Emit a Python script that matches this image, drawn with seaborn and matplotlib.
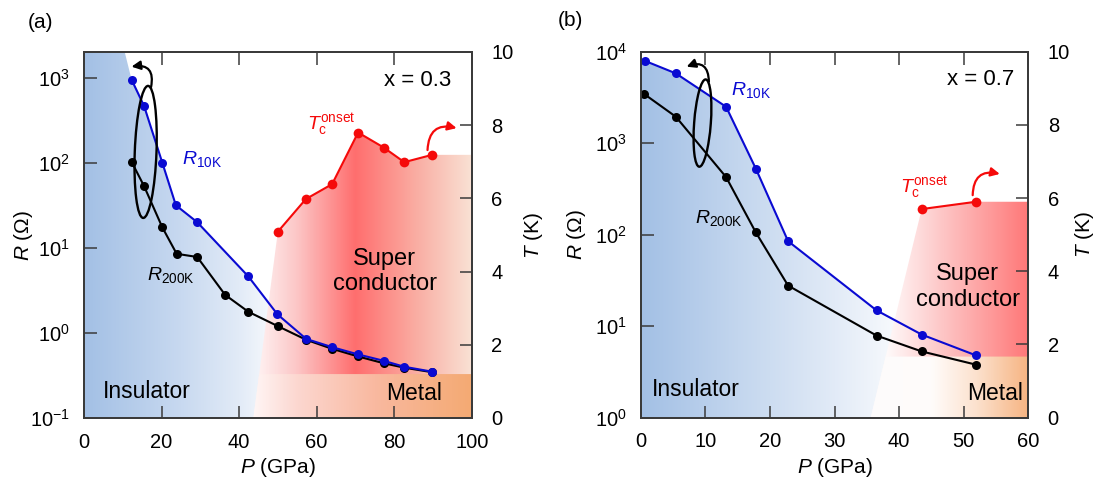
import numpy as np
import matplotlib
matplotlib.use("Agg")
import matplotlib.pyplot as plt
import seaborn as sns
from matplotlib.colors import LinearSegmentedColormap
from matplotlib.patches import Polygon, Ellipse
from matplotlib.ticker import NullLocator

# ---- panel (a): x = 0.3 ----
p10_a = [12.3, 15.5, 20.2, 23.7, 29.2, 42.4, 49.9, 57.3, 64.0, 70.6, 77.3, 82.6, 89.8]
r10_a = [940, 464, 100, 31.6, 20, 4.6, 1.65, 0.85, 0.68, 0.56, 0.47, 0.40, 0.35]
p200_a = [12.3, 15.5, 20.2, 23.9, 29.2, 36.4, 42.4, 50.0, 57.3, 64.0, 70.6, 77.3, 82.6, 89.8]
r200_a = [102, 53, 17.4, 8.5, 7.8, 2.8, 1.77, 1.2, 0.83, 0.65, 0.53, 0.44, 0.39, 0.345]
ptc_a = [50.0, 57.2, 64.0, 70.7, 77.3, 82.6, 89.8]
tc_a = [5.09, 5.98, 6.39, 7.80, 7.39, 6.99, 7.19]

# ---- panel (b): x = 0.7 ----
p10_b = [0.6, 5.4, 13.2, 17.8, 22.8, 36.5, 43.5, 51.9]
r10_b = [7950, 5800, 2500, 528, 85, 14.9, 8.1, 4.8]
p200_b = [0.5, 5.4, 13.2, 17.8, 22.8, 36.5, 43.5, 51.9]
r200_b = [3450, 1950, 426, 106, 27.8, 7.9, 5.3, 3.8]
ptc_b = [43.5, 51.9]
tc_b = [5.70, 5.90]

# phase boundaries (region edges, not data points)
ins_top_a = 10.5
sc_foot_a = 43.7
metal_top_a = 1.2
sc_foot_b = 35.6
metal_top_b = 1.67

BLUE = "#0a0ad2"
RED = "#f50a0a"

sns.set_theme(style="ticks")
plt.rcParams["font.family"] = ["Liberation Sans", "DejaVu Sans"]
plt.rcParams["mathtext.fontset"] = "custom"
plt.rcParams["mathtext.rm"] = "Liberation Sans"
plt.rcParams["mathtext.it"] = "Liberation Sans:italic"
plt.rcParams["axes.edgecolor"] = "#3a3a3a"
plt.rcParams["axes.linewidth"] = 1.3
plt.rcParams["text.color"] = "black"
plt.rcParams["axes.labelcolor"] = "black"
plt.rcParams["axes.unicode_minus"] = False


def gradient(ax, verts, trans, stops, xmax, zorder):
    cmap = LinearSegmentedColormap.from_list(
        "g", [(p / xmax, np.array(c) / 255) for p, c in stops])
    img = ax.imshow(np.linspace(0, 1, 512)[None, :], cmap=cmap, vmin=0, vmax=1,
                    extent=(0, 1, 0, 1), transform=ax.transAxes,
                    aspect="auto", zorder=zorder, interpolation="bilinear")
    img.set_clip_path(Polygon(verts, closed=True, transform=trans))


def panel(ax, xmax, ylim, p10, r10, p200, r200, ptc, tc, bounds, colors):
    ins_verts, sc_verts, metal_verts = bounds
    blue_stops, red_stops, metal_stops = colors
    ax.set_autoscale_on(False)
    ax.set_yscale("log")
    ax.set_xlim(0, xmax)
    ax.set_ylim(*ylim)
    ax2 = ax.twinx()
    ax2.set_ylim(0, 10)
    ax2.set_xlim(0, xmax)

    gradient(ax, ins_verts, ax.transData, blue_stops, xmax, 0.1)
    gradient(ax, sc_verts, ax2.transData, red_stops, xmax, 0.2)
    gradient(ax, metal_verts, ax2.transData, metal_stops, xmax, 0.3)

    sns.lineplot(x=p200, y=r200, ax=ax, color="black", marker="o", markersize=6.5,
                 markeredgewidth=0, linewidth=1.5, sort=False, zorder=5)
    sns.lineplot(x=p10, y=r10, ax=ax, color=BLUE, marker="o", markersize=6.5,
                 markeredgewidth=0, linewidth=1.5, sort=False, zorder=6)
    sns.lineplot(x=ptc, y=tc, ax=ax2, color=RED, marker="o", markersize=7,
                 markeredgewidth=0, linewidth=1.5, sort=False, zorder=6)

    ax.set_ylim(*ylim)
    ax.set_xlim(0, xmax)
    ax2.set_ylim(0, 10)
    ax.yaxis.set_minor_locator(NullLocator())
    ax.tick_params(axis="both", direction="in", length=9, width=1.1,
                   labelsize=14.5, colors="#3a3a3a", labelcolor="black")
    ax.tick_params(axis="x", top=True, pad=10.5)
    ax.tick_params(axis="y", right=False, pad=10)
    ax2.set_yticks(range(0, 11, 2))
    ax2.tick_params(axis="y", direction="in", length=9, width=1.1,
                    labelsize=14.5, pad=14, colors="#3a3a3a", labelcolor="black")
    ax.set_xlabel("$P$ (GPa)", fontsize=15)
    ax.set_ylabel(r"$R$ ($\Omega$)", fontsize=15)
    ax2.set_ylabel("$T$ (K)", fontsize=15)
    ax.xaxis.set_label_coords(0.5, -0.105)
    return ax2


def slant(foot, p0, t0, t):
    # left edge of the superconducting dome at height t
    return foot + (p0 - foot) * t / t0


fig = plt.figure(figsize=(11.05, 4.91), dpi=100)
axa = fig.add_axes([0.076, 0.1487, 0.3509, 0.7454])
axb = fig.add_axes([0.580, 0.1493, 0.3505, 0.7454])

ins_a = [(ins_top_a, 2000)] + list(zip(p10_a, r10_a)) + [(p10_a[-1], 0.1), (0, 0.1), (0, 2000)]
sc_a = [(sc_foot_a, 0)] + list(zip(ptc_a, tc_a)) + [(100, tc_a[-1]), (100, 0)]
met_a = [(sc_foot_a, 0), (slant(sc_foot_a, ptc_a[0], tc_a[0], metal_top_a), metal_top_a),
         (100, metal_top_a), (100, 0)]
ax2a = panel(
    axa, 100, (0.1, 2000), p10_a, r10_a, p200_a, r200_a, ptc_a, tc_a,
    (ins_a, sc_a, met_a),
    ([(0, (163, 192, 229)), (25, (200, 217, 240)), (40, (226, 235, 247)), (52, (255, 255, 255)), (100, (255, 255, 255))],
     [(0, (255, 250, 250)), (44, (255, 245, 245)), (55, (252, 198, 198)), (70, (255, 110, 110)),
      (85, (250, 170, 160)), (100, (249, 225, 212))],
     [(0, (255, 250, 250)), (44, (255, 245, 244)), (55, (252, 215, 208)), (75, (249, 185, 160)),
      (100, (244, 170, 115))]))

ins_b = [(0, r10_b[0])] + list(zip(p10_b, r10_b)) + [(p10_b[-1], 1), (0, 1)]
sc_b = [(sc_foot_b, 0)] + list(zip(ptc_b, tc_b)) + [(60, tc_b[-1]), (60, 0)]
met_b = [(sc_foot_b, 0), (slant(sc_foot_b, ptc_b[0], tc_b[0], metal_top_b), metal_top_b),
         (60, metal_top_b), (60, 0)]
ax2b = panel(
    axb, 60, (1, 1e4), p10_b, r10_b, p200_b, r200_b, ptc_b, tc_b,
    (ins_b, sc_b, met_b),
    ([(0, (163, 192, 229)), (15, (195, 214, 238)), (30, (226, 235, 247)), (43, (255, 255, 255)), (60, (255, 255, 255))],
     [(0, (255, 252, 252)), (38, (255, 250, 250)), (48, (253, 190, 190)), (60, (255, 120, 120))],
     [(0, (253, 251, 252)), (36, (253, 251, 252)), (45, (255, 252, 250)), (52, (252, 225, 205)),
      (60, (246, 180, 130))]))

axa.yaxis.set_label_coords(-0.126, 0.5)
ax2a.yaxis.set_label_coords(1.129, 0.5)
axb.yaxis.set_label_coords(-0.137, 0.5)
ax2b.yaxis.set_label_coords(1.115, 0.5)

# labels, panel (a)
axa.text(25.2, 110, r"$R_{\rm 10K}$", color=BLUE, fontsize=14, va="center")
axa.text(16.2, 4.75, r"$R_{\rm 200K}$", color="black", fontsize=14, va="center")
ax2a.text(57.5, 8.0, r"$T_{\rm c}^{\rm onset}$", color=RED, fontsize=14, va="center")
ax2a.text(77.6, 4.0, "Super\nconductor", fontsize=17, ha="center", va="center")
ax2a.text(5.0, 0.72, "Insulator", fontsize=16.5, va="center")
ax2a.text(92.3, 0.68, "Metal", fontsize=16.5, ha="right", va="center")
ax2a.text(94.8, 9.23, "x = 0.3", fontsize=16, ha="right", va="center")

# labels, panel (b)
axb.text(14.0, 3800, r"$R_{\rm 10K}$", color=BLUE, fontsize=14, va="center")
axb.text(8.4, 153, r"$R_{\rm 200K}$", color="black", fontsize=14, va="center")
ax2b.text(40.1, 6.28, r"$T_{\rm c}^{\rm onset}$", color=RED, fontsize=14, va="center")
ax2b.text(50.6, 3.57, "Super\nconductor", fontsize=17, ha="center", va="center")
ax2b.text(1.7, 0.76, "Insulator", fontsize=16.5, va="center")
ax2b.text(59.2, 0.67, "Metal", fontsize=16.5, ha="right", va="center")
ax2b.text(57.9, 9.23, "x = 0.7", fontsize=16, ha="right", va="center")

# ellipses and arrows
axa.add_patch(Ellipse((0.159, 0.727), 0.056, 0.361, angle=-2, transform=axa.transAxes,
                      fill=False, ec="black", lw=1.7, zorder=7))
axb.add_patch(Ellipse((0.159, 0.805), 0.043, 0.239, angle=-4, transform=axb.transAxes,
                      fill=False, ec="black", lw=1.7, zorder=7))
arrow_k = dict(arrowstyle="-|>", color="black", lw=1.6, shrinkA=0, shrinkB=0,
               mutation_scale=13, connectionstyle="arc3,rad=0.7")
arrow_r = dict(arrowstyle="-|>", color=RED, lw=1.6, shrinkA=0, shrinkB=0,
               mutation_scale=13, connectionstyle="arc3,rad=-0.6")
axa.annotate("", xy=(0.1225, 0.960), xytext=(0.173, 0.904), xycoords="axes fraction",
             textcoords="axes fraction", arrowprops=arrow_k, zorder=8)
axb.annotate("", xy=(0.118, 0.959), xytext=(0.1756, 0.918), xycoords="axes fraction",
             textcoords="axes fraction", arrowprops=arrow_k, zorder=8)
ax2a.annotate("", xy=(96.1, 7.92), xytext=(88.6, 7.32), arrowprops=arrow_r)
ax2b.annotate("", xy=(55.6, 6.66), xytext=(51.4, 6.08), arrowprops=arrow_r)

fig.text(28 / 1105, 1 - 23 / 491, "(a)", fontsize=15, va="center")
fig.text(558 / 1105, 1 - 20 / 491, "(b)", fontsize=15, va="center")

fig.savefig("out.png", dpi=100)
